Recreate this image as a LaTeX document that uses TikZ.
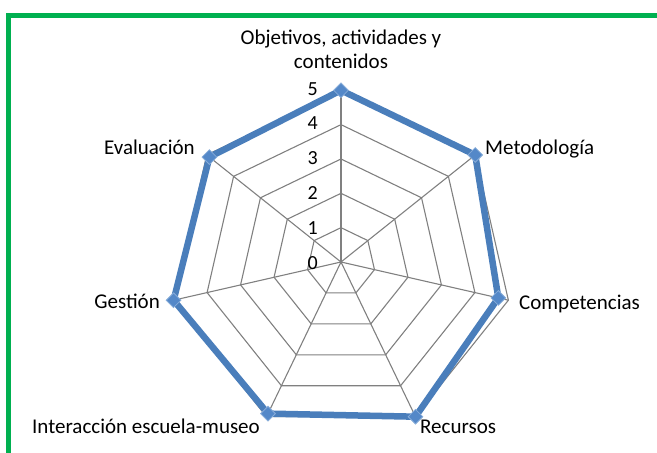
\documentclass[tikz,border=0pt]{standalone}
\usepackage{fontspec}
\setmainfont{Carlito}
\usetikzlibrary{shapes.geometric}

\definecolor{framegreen}{RGB}{0,176,80}
\definecolor{seriesblue}{RGB}{74,126,187}
\definecolor{markblue}{RGB}{84,136,200}
\definecolor{gridgrey}{RGB}{128,128,128}

\begin{document}
\begin{tikzpicture}[x=1pt,y=1pt,
    gridline/.style={gridgrey,line width=1.1pt},
    series/.style={seriesblue,line width=6.5pt,line join=round},
    datamark/.style={diamond,fill=markblue,draw=markblue!70!white,line width=0.8pt,inner sep=0pt,minimum size=15pt},
    catlabel/.style={font=\fontsize{21}{24}\selectfont,inner sep=0pt},
    ticklabel/.style={font=\fontsize{20}{22}\selectfont,inner sep=0pt,anchor=east}]
    \useasboundingbox (-341,-191) rectangle (316,262);

    % green frame
    \draw[framegreen,line width=5pt] (-332,-195) -- (-332,246) -- (320,246);

    % spokes
    \draw[gridline] (0,0) -- (90:171.7);
    \draw[gridline] (0,0) -- (38.57:171.7);
    \draw[gridline] (0,0) -- (-12.86:171.7);
    \draw[gridline] (0,0) -- (-64.29:171.7);
    \draw[gridline] (0,0) -- (-115.71:171.7);
    \draw[gridline] (0,0) -- (-167.14:171.7);
    \draw[gridline] (0,0) -- (141.43:171.7);

    % rings
    \draw[gridline] (90:34.34) -- (38.57:34.34) -- (-12.86:34.34) -- (-64.29:34.34) -- (-115.71:34.34) -- (-167.14:34.34) -- (141.43:34.34) -- cycle;
    \draw[gridline] (90:68.68) -- (38.57:68.68) -- (-12.86:68.68) -- (-64.29:68.68) -- (-115.71:68.68) -- (-167.14:68.68) -- (141.43:68.68) -- cycle;
    \draw[gridline] (90:103.02) -- (38.57:103.02) -- (-12.86:103.02) -- (-64.29:103.02) -- (-115.71:103.02) -- (-167.14:103.02) -- (141.43:103.02) -- cycle;
    \draw[gridline] (90:137.36) -- (38.57:137.36) -- (-12.86:137.36) -- (-64.29:137.36) -- (-115.71:137.36) -- (-167.14:137.36) -- (141.43:137.36) -- cycle;
    \draw[gridline] (90:171.7) -- (38.57:171.7) -- (-12.86:171.7) -- (-64.29:171.7) -- (-115.71:171.7) -- (-167.14:171.7) -- (141.43:171.7) -- cycle;

    % scale
    \node[ticklabel] (t0) at (-23,-1) {0};
    \node[ticklabel] (t1) at (-23,33.5) {1};
    \node[ticklabel] (t2) at (-23,68.68) {2};
    \node[ticklabel] (t3) at (-23,103.8) {3};
    \node[ticklabel] (t4) at (-23,138.5) {4};
    \node[ticklabel] (t5) at (-23,173) {5};

    % data
    \coordinate (p1) at (90:171.7);
    \coordinate (p2) at (38.57:171.7);
    \coordinate (p3) at (-12.86:161.4);
    \coordinate (p4) at (-64.29:171.7);
    \coordinate (p5) at (-115.71:168.3);
    \coordinate (p6) at (-167.14:171.7);
    \coordinate (p7) at (141.43:168.3);
    \draw[series] (p1) -- (p2) -- (p3) -- (p4) -- (p5) -- (p6) -- (p7) -- cycle;
    \node[datamark] (m1) at (p1) {};
    \node[datamark] (m2) at (p2) {};
    \node[datamark] (m3) at (p3) {};
    \node[datamark] (m4) at (p4) {};
    \node[datamark] (m5) at (p5) {};
    \node[datamark] (m6) at (p6) {};
    \node[datamark] (m7) at (p7) {};

    % categories
    \node[catlabel,anchor=south,align=center] (obj) at (0,193) {Objetivos, actividades y\\contenidos};
    \node[catlabel,anchor=base west] (met) at (144,107) {Metodología};
    \node[catlabel,anchor=base west] (com) at (178,-47) {Competencias};
    \node[catlabel,anchor=base west] (rec) at (79,-171) {Recursos};
    \node[catlabel,anchor=base east] (int) at (-81,-171) {Interacción escuela-museo};
    \node[catlabel,anchor=base east] (ges) at (-181,-46) {Gestión};
    \node[catlabel,anchor=base east] (eva) at (-146,107) {Evaluación};
\end{tikzpicture}
\end{document}
